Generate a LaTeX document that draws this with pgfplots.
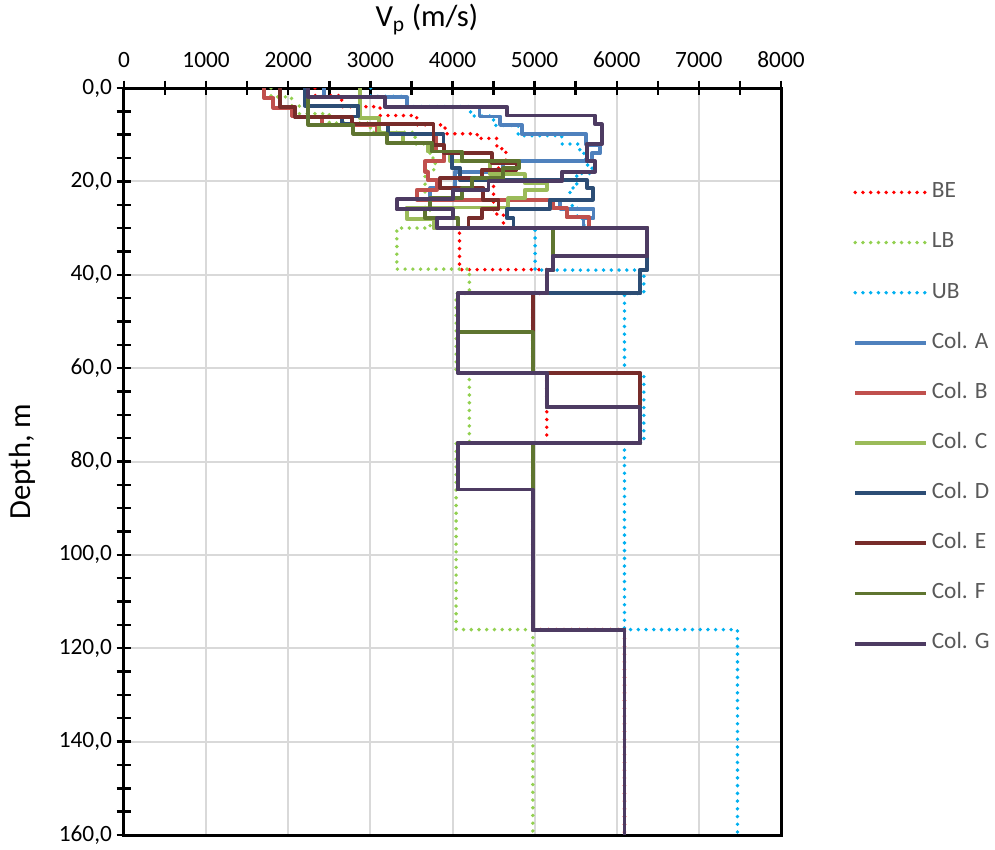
\documentclass[border=0pt]{standalone}
\usepackage{fontspec}
\setmainfont{Carlito}
\usepackage{pgfplots}
\pgfplotsset{compat=1.18}

\definecolor{cBE}{HTML}{FF0000}
\definecolor{cLB}{HTML}{92D050}
\definecolor{cUB}{HTML}{00B0F0}
\definecolor{cA}{HTML}{4F81BD}
\definecolor{cB}{HTML}{C0504D}
\definecolor{cC}{HTML}{9BBB59}
\definecolor{cD}{HTML}{2C4D75}
\definecolor{cE}{HTML}{772C2A}
\definecolor{cF}{HTML}{5F7530}
\definecolor{cG}{HTML}{4D3B62}
\definecolor{gridgray}{HTML}{D9D9D9}
\definecolor{legtext}{HTML}{595959}

\newcommand\chartfont{\fontsize{17.5}{21}\selectfont}
\newcommand\titlefont{\fontsize{23}{27}\selectfont}

\pgfplotsset{
  dotprof/.style={line width=2.9pt, line cap=round, dash pattern=on 0pt off 5.8pt},
  solprof/.style={line width=2.9pt, line join=round},
}

\begin{document}
\begin{tikzpicture}
\path[use as bounding box] (-93pt,-10.5pt) rectangle (653.25pt,626.25pt);
\begin{axis}[
  at={(0,0)}, anchor=south west,
  scale only axis, width=492.75pt, height=560.25pt,
  xmin=0, xmax=8000, ymin=0, ymax=160,
  y dir=reverse,
  xtick={0,1000,...,8000}, ytick={0,20,...,160},
  minor x tick num=1, minor y tick num=3,
  xtick pos=right, xticklabel pos=right,
  ytick pos=left, yticklabel pos=left,
  scaled x ticks=false,
  tick align=center,
  major tick length=11pt, minor tick length=11pt,
  tick style={black, line width=1.8pt},
  axis line style={black, line width=2.25pt},
  grid=major,
  major grid style={gridgray, line width=1.5pt},
  /pgf/number format/assume math mode=true,
  ticklabel style={font=\chartfont},
  xticklabel style={/pgf/number format/1000 sep={}, yshift=6.5pt},
  yticklabel style={/pgf/number format/.cd, fixed, fixed zerofill, precision=1, use comma},
  xlabel={V\textsubscript{p} (m/s)},
  ylabel={Depth, m},
  xlabel style={font=\titlefont, at={(axis description cs:0.461,1)}, anchor=center, yshift=51pt},
  ylabel style={font=\titlefont, at={(axis description cs:0,0.5)}, anchor=center, yshift=76.5pt},
  legend cell align=left,
  legend image code/.code={\path (0pt,-7.2pt); \draw[#1] (0pt,0pt) -- (53pt,0pt);},
  legend style={at={(axis description cs:1.110,0.8745)}, anchor=north west,
    draw=none, fill=none, inner sep=0pt, outer sep=0pt,
    row sep=20.95pt, /tikz/column sep=3pt,
    font=\chartfont, text=legtext,
    nodes={inner sep=0pt, text height=12pt, text depth=4pt}},
  no markers,
]

% best estimate
\addplot[cBE, dotprof] coordinates {
(2326,0)(2326,1.6)(2650,1.6)(2650,4.0)(3118,4.0)(3118,5.9)(3565,5.9)(3565,7.9)
(3910,7.9)(3910,9.8)(4300,9.8)(4300,10.8)(4540,10.8)(4540,13.0)(4650,13.0)(4650,16.0)
(4560,16.0)(4560,19.0)(4500,19.0)(4500,27.0)(4620,27.0)(4620,30.0)(4085,30.0)(4085,38.9)
(5148,38.9)(5148,44.0)(4978,44.0)(4978,61.0)(5148,61.0)(5148,76.0)(4978,76.0)(4978,116.0)
(6094,116.0)(6094,160)};
\addlegendentry{BE}

% lower bound
\addplot[cLB, dotprof] coordinates {
(1790,0)(1790,1.9)(2040,1.9)(2040,3.8)(2135,3.8)(2135,5.5)(2500,5.5)(2500,7.5)
(3000,7.5)(3000,9.5)(3545,9.5)(3545,12.0)(3727,12.0)(3727,15.0)(3790,15.0)(3790,17.5)
(3666,17.5)(3666,26.0)(3727,26.0)(3727,30.0)(3322,30.0)(3322,38.8)(4205,38.8)(4205,44.0)
(4044,44.0)(4044,61.0)(4205,61.0)(4205,76.0)(4044,76.0)(4044,116.0)(4978,116.0)(4978,160)};
\addlegendentry{LB}

% upper bound
\addplot[cUB, dotprof] coordinates {
(3005,0)(3005,1.8)(3450,1.8)(3450,4.0)(4220,4.0)(4220,6.0)(4500,6.0)(4500,8.0)
(4800,8.0)(4800,10.2)(5330,10.2)(5330,12.0)(5550,12.0)(5550,14.0)(5620,14.0)(5620,16.5)
(5700,16.5)(5700,18.3)(5513,18.3)(5513,21.4)(5430,21.4)(5430,25.2)(5520,25.2)(5520,28.0)
(5600,28.0)(5600,30.0)(5006,30.0)(5006,39.0)(6330,39.0)(6330,44.0)(6094,44.0)(6094,61.0)
(6330,61.0)(6330,76.0)(6094,76.0)(6094,116.0)(7470,116.0)(7470,160)};
\addlegendentry{UB}

\addplot[cA, solprof] coordinates {
(2436,0)(2436,2.0)(3443,2.0)(3443,4.0)(4328,4.0)(4328,6.1)(4580,6.1)(4580,7.9)
(4844,7.9)(4844,9.9)(5626,9.9)(5626,12.2)(5798,12.2)(5798,14.0)(5696,14.0)(5696,15.7)
(4620,15.7)(4620,17.9)(4030,17.9)(4030,21.4)(3727,21.4)(3727,23.9)(5310,23.9)(5310,25.9)
(5717,25.9)(5717,27.9)(5595,27.9)(5595,30.0)(6366,30.0)(6366,39.0)(6285,39.0)(6285,44.0)
(4072,44.0)(4072,61.0)(5148,61.0)(5148,68.3)(6285,68.3)(6285,76.0)(4072,76.0)(4072,86.0)
(4978,86.0)(4978,116.0)(6094,116.0)(6094,160)};
\addlegendentry{Col. A}

\addplot[cB, solprof] coordinates {
(1705,0)(1705,2.1)(1819,2.1)(1819,4.2)(2040,4.2)(2040,6.1)(2415,6.1)(2415,7.9)
(3077,7.9)(3077,9.9)(3800,9.9)(3800,13.6)(3900,13.6)(3900,15.7)(3666,15.7)(3666,17.9)
(3700,17.9)(3700,19.7)(3810,19.7)(3810,21.8)(3565,21.8)(3565,23.9)(5220,23.9)(5220,25.7)
(5390,25.7)(5390,27.7)(5665,27.7)(5665,30.0)(6366,30.0)(6366,36.0)(5221,36.0)(5221,39.0)
(5148,39.0)(5148,44.0)(4072,44.0)(4072,61.0)(5148,61.0)(5148,68.3)(6285,68.3)(6285,76.0)
(4072,76.0)(4072,86.0)(4978,86.0)(4978,116.0)(6094,116.0)(6094,160)};
\addlegendentry{Col. B}

\addplot[cC, solprof] coordinates {
(2874,0)(2874,6.5)(3100,6.5)(3100,9.7)(3402,9.7)(3402,11.8)(3700,11.8)(3700,13.6)
(3970,13.6)(3970,15.7)(4458,15.7)(4458,18.5)(4880,18.5)(4880,20.4)(5148,20.4)(5148,21.8)
(4880,21.8)(4880,23.6)(4680,23.6)(4680,25.6)(3443,25.6)(3443,28.0)(3768,28.0)(3768,30.0)
(6366,30.0)(6366,36.0)(5221,36.0)(5221,39.0)(5148,39.0)(5148,44.0)(4072,44.0)(4072,61.0)
(5148,61.0)(5148,68.3)(6285,68.3)(6285,76.0)(4072,76.0)(4072,86.0)(4978,86.0)(4978,116.0)
(6094,116.0)(6094,160)};
\addlegendentry{Col. C}

\addplot[cD, solprof] coordinates {
(2205,0)(2205,3.8)(2854,3.8)(2854,6.1)(2650,6.1)(2650,7.8)(3210,7.8)(3210,9.9)
(3890,9.9)(3890,13.6)(3991,13.6)(3991,17.2)(4093,17.2)(4093,19.7)(5636,19.7)(5636,21.4)
(5708,21.4)(5708,23.9)(5188,23.9)(5188,25.9)(4661,25.9)(4661,27.9)(4742,27.9)(4742,30.0)
(6366,30.0)(6366,39.0)(6285,39.0)(6285,44.0)(4072,44.0)(4072,61.0)(5148,61.0)(5148,68.3)
(6285,68.3)(6285,76.0)(4072,76.0)(4072,86.0)(4978,86.0)(4978,116.0)(6094,116.0)(6094,160)};
\addlegendentry{Col. D}

\addplot[cE, solprof] coordinates {
(1900,0)(1900,4.0)(2083,4.0)(2083,6.3)(2773,6.3)(2773,7.8)(3768,7.8)(3768,12.2)
(3900,12.2)(3900,14.0)(4478,14.0)(4478,16.0)(4780,16.0)(4780,17.5)(4357,17.5)(4357,19.3)
(3850,19.3)(3850,21.4)(4376,21.4)(4376,23.9)(4560,23.9)(4560,25.9)(4357,25.9)(4357,27.9)
(4194,27.9)(4194,30.0)(6366,30.0)(6366,36.0)(5221,36.0)(5221,39.0)(5148,39.0)(5148,44.0)
(4978,44.0)(4978,61.0)(6285,61.0)(6285,76.0)(4072,76.0)(4072,86.0)(4978,86.0)(4978,116.0)
(6094,116.0)(6094,160)};
\addlegendentry{Col. E}

\addplot[cF, solprof] coordinates {
(2245,0)(2245,7.9)(2793,7.9)(2793,9.8)(3199,9.8)(3199,11.8)(3747,11.8)(3747,13.6)
(4113,13.6)(4113,15.7)(4813,15.7)(4813,17.2)(4620,17.2)(4620,19.3)(4235,19.3)(4235,21.4)
(4113,21.4)(4113,23.6)(3727,23.6)(3727,25.9)(3666,25.9)(3666,27.9)(4072,27.9)(4072,30.0)
(5221,30.0)(5221,39.0)(5148,39.0)(5148,44.0)(4072,44.0)(4072,52.3)(4978,52.3)(4978,61.0)
(5148,61.0)(5148,68.3)(6285,68.3)(6285,76.0)(4978,76.0)(4978,116.0)(6094,116.0)(6094,160)};
\addlegendentry{Col. F}

\addplot[cG, solprof] coordinates {
(2245,0)(2245,2.0)(3179,2.0)(3179,4.0)(4661,4.0)(4661,5.9)(5737,5.9)(5737,7.8)
(5818,7.8)(5818,12.0)(5636,12.0)(5636,15.7)(5737,15.7)(5737,17.9)(5331,17.9)(5331,20.0)
(4438,20.0)(4438,21.8)(4010,21.8)(4010,23.8)(3321,23.8)(3321,26.0)(4010,26.0)(4010,27.9)
(3810,27.9)(3810,30.0)(6366,30.0)(6366,36.0)(5221,36.0)(5221,39.0)(5148,39.0)(5148,44.0)
(4072,44.0)(4072,61.0)(5148,61.0)(5148,68.3)(6285,68.3)(6285,76.0)(4072,76.0)(4072,86.0)
(4978,86.0)(4978,116.0)(6094,116.0)(6094,160)};
\addlegendentry{Col. G}

\end{axis}
\end{tikzpicture}
\end{document}
